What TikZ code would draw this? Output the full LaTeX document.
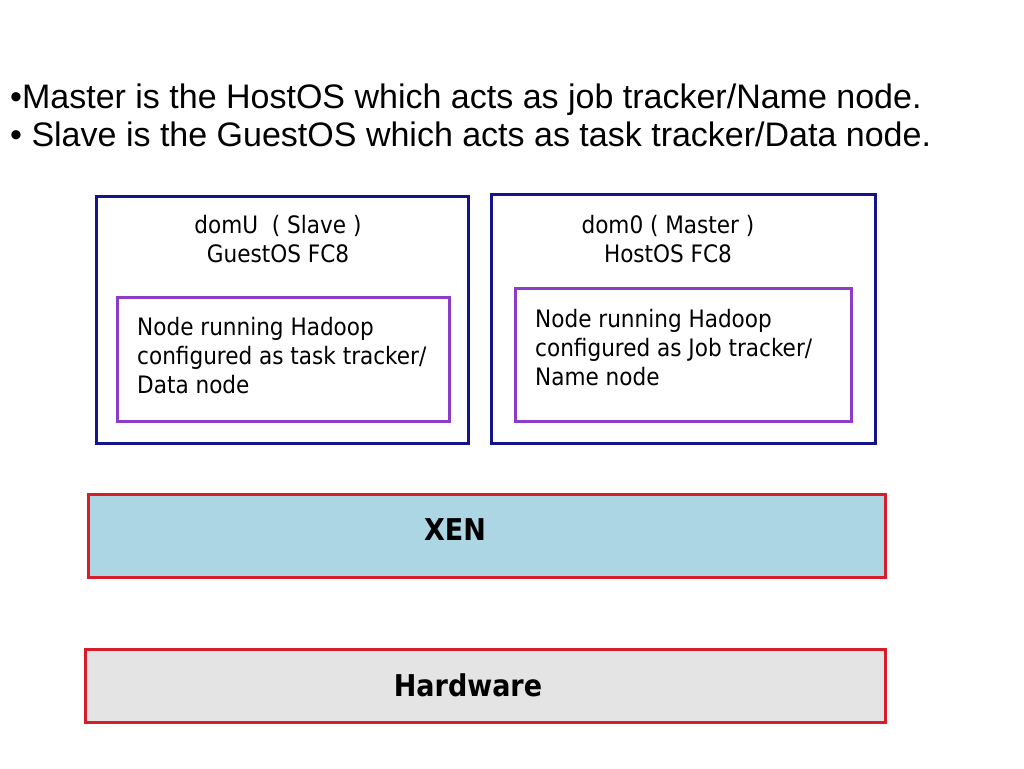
\documentclass[tikz,border=0pt]{standalone}
\usepackage{fontspec}
\setmainfont{Liberation Sans}
\newfontfamily\boxfont{DejaVu Sans Condensed}
\definecolor{navyline}{RGB}{20,20,140}
\definecolor{purpline}{RGB}{140,60,200}
\definecolor{redline}{RGB}{215,30,40}
\definecolor{xenfill}{RGB}{172,214,228}
\definecolor{hwfill}{RGB}{228,228,228}
\begin{document}
\begin{tikzpicture}[x=1pt,y=-1pt,
  outerbox/.style={draw=navyline,line width=3pt},
  innerbox/.style={draw=purpline,line width=3pt},
  layerbox/.style={draw=redline,line width=3pt},
  bullettext/.style={anchor=base west,inner sep=0pt,font=\fontsize{34}{38}\selectfont},
  boxlabel/.style={inner sep=0pt,font=\boxfont\fontsize{24}{29}\selectfont,align=center},
  innerlabel/.style={anchor=north west,inner sep=0pt,font=\boxfont\fontsize{24}{29}\selectfont,align=left},
  layerlabel/.style={inner sep=0pt,font=\boxfont\bfseries\fontsize{30}{34}\selectfont}]
\useasboundingbox (0,0) rectangle (1024,768);
\fill[white] (0,0) rectangle (1024,768);
\node[bullettext] (b1) at (10,108) {\textbullet Master is the HostOS which acts as job tracker/Name node.};
\node[bullettext] (b2) at (10,146) {\textbullet{} Slave is the GuestOS which acts as task tracker/Data node.};
% domU
\draw[outerbox] (96,196) rectangle (468,443);
\node[boxlabel] (domUt) at (278,239) {domU \ ( Slave )\\GuestOS FC8};
\draw[innerbox] (117,297) rectangle (449,421);
\node[innerlabel] (domUi) at (137,317) {Node running Hadoop\\configured as task tracker/\\Data node};
% dom0
\draw[outerbox] (491,194) rectangle (875,443);
\node[boxlabel] (dom0t) at (668,239) {dom0 ( Master )\\HostOS FC8};
\draw[innerbox] (515,288) rectangle (851,421);
\node[innerlabel] (dom0i) at (535,309) {Node running Hadoop\\configured as Job tracker/\\Name node};
% XEN
\draw[layerbox,fill=xenfill] (88,494) rectangle (885,577);
\node[layerlabel] (xen) at (455,530) {XEN};
% Hardware
\draw[layerbox,fill=hwfill] (85,649) rectangle (885,722);
\node[layerlabel] (hw) at (468,685) {Hardware};
\end{tikzpicture}
\end{document}
